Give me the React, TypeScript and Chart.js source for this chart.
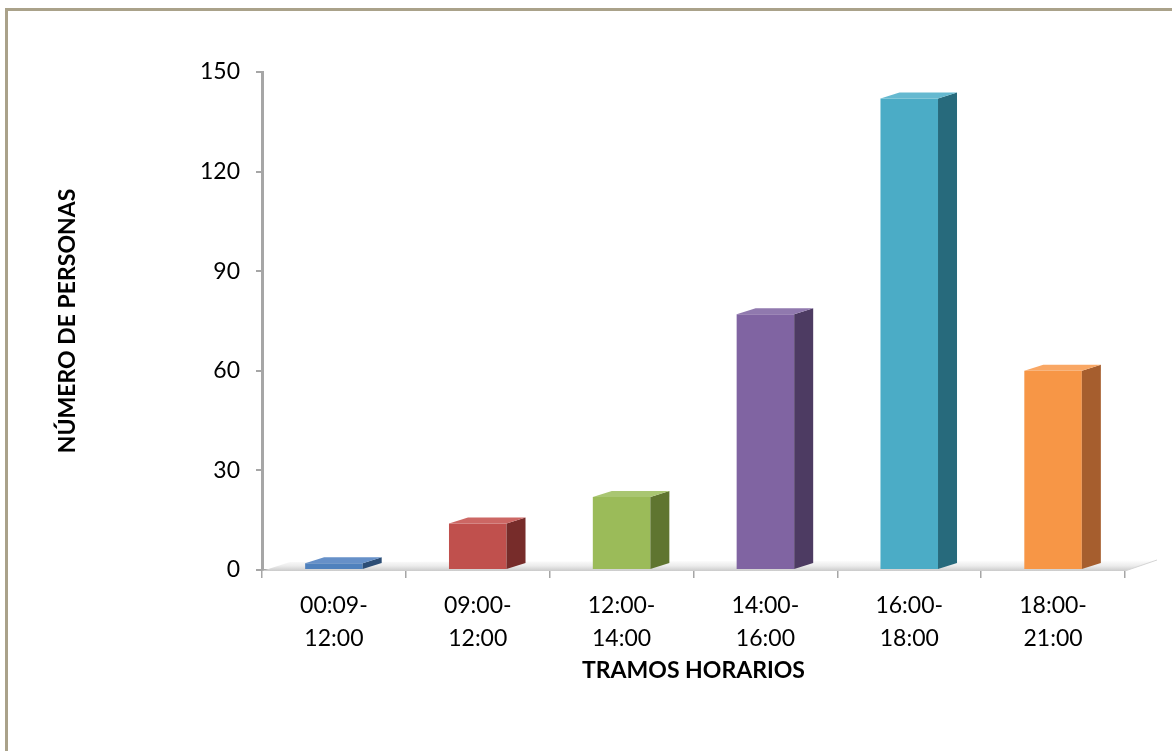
import React, { useEffect, useRef } from "react";
import { Chart, registerables } from "chart.js";

Chart.register(...registerables);

const categories: string[][] = [
  ["00:09-", "12:00"],
  ["09:00-", "12:00"],
  ["12:00-", "14:00"],
  ["14:00-", "16:00"],
  ["16:00-", "18:00"],
  ["18:00-", "21:00"],
];
const values: number[] = [2, 14, 22, 77, 142, 60];
const yTicks: number[] = [0, 30, 60, 90, 120, 150];
const frontColors: string[] = ["#4f81bd", "#c0504d", "#9bbb59", "#8064a2", "#4bacc6", "#f79646"];
const sideColors: string[] = ["#2c4d75", "#772c2a", "#5f7530", "#4d3b62", "#276a7c", "#a65e2e"];
const topColors: string[] = ["#6690c8", "#cc6764", "#a9c672", "#9079ae", "#65b9d0", "#f9a764"];
const xTitle = "TRAMOS HORARIOS";
const yTitle = "NÚMERO DE PERSONAS";

const DX = 19;
const DY = 6;

const floorPlugin = {
  id: "floor3d",
  beforeDatasetsDraw(chart: any) {
    const { ctx, chartArea } = chart;
    const l = chartArea.left;
    const r = chartArea.right;
    const b = chartArea.bottom;
    ctx.save();
    const g = ctx.createLinearGradient(0, b - 10, 0, b + 2);
    g.addColorStop(0, "#ffffff");
    g.addColorStop(0.5, "#ebebeb");
    g.addColorStop(1, "#c4c4c4");
    ctx.fillStyle = g;
    ctx.beginPath();
    ctx.moveTo(l, b + 1);
    ctx.lineTo(l + 28, b - 8);
    ctx.lineTo(r + 32, b - 10);
    ctx.lineTo(r, b + 1);
    ctx.closePath();
    ctx.fill();
    ctx.strokeStyle = "#d4d4d4";
    ctx.lineWidth = 1;
    ctx.beginPath();
    ctx.moveTo(r, b + 1);
    ctx.lineTo(r + 32, b - 10);
    ctx.stroke();
    ctx.restore();
  },
};

const bar3dPlugin = {
  id: "bar3d",
  afterDatasetsDraw(chart: any) {
    const { ctx } = chart;
    const meta = chart.getDatasetMeta(0);
    ctx.save();
    meta.data.forEach((bar: any, i: number) => {
      const { x, y, base, width } = bar.getProps(["x", "y", "base", "width"], true);
      const l = x - width / 2;
      const r = x + width / 2;
      ctx.fillStyle = sideColors[i];
      ctx.beginPath();
      ctx.moveTo(r, y);
      ctx.lineTo(r + DX, y - DY);
      ctx.lineTo(r + DX, base - DY);
      ctx.lineTo(r, base);
      ctx.closePath();
      ctx.fill();
      ctx.fillStyle = topColors[i];
      ctx.beginPath();
      ctx.moveTo(l, y);
      ctx.lineTo(l + DX, y - DY);
      ctx.lineTo(r + DX, y - DY);
      ctx.lineTo(r, y);
      ctx.closePath();
      ctx.fill();
    });
    ctx.restore();
  },
};

export default function App() {
  const ref = useRef<HTMLCanvasElement | null>(null);

  useEffect(() => {
    if (!ref.current) return;
    const chart = new Chart(ref.current, {
      type: "bar",
      data: {
        labels: categories,
        datasets: [
          {
            data: values,
            backgroundColor: frontColors,
            borderWidth: 0,
            barPercentage: 0.8,
            categoryPercentage: 0.5,
          },
        ],
      },
      plugins: [floorPlugin, bar3dPlugin],
      options: {
        responsive: false,
        animation: false,
        events: [],
        layout: { padding: { left: 0, top: 72, right: 47, bottom: 0 } },
        plugins: {
          legend: { display: false },
          tooltip: { enabled: false },
        },
        scales: {
          x: {
            afterFit: (s: any) => {
              s.height = 181;
            },
            grid: {
              drawOnChartArea: false,
              drawTicks: true,
              tickLength: 8,
              color: "#a6a6a6",
              lineWidth: 1.5,
            },
            border: { display: true, color: "#a6a6a6", width: 1.5 },
            ticks: {
              color: "#000000",
              padding: 11,
              maxRotation: 0,
              autoSkip: false,
              font: { family: "Lato", size: 23, lineHeight: 1.45 },
            },
            title: {
              display: true,
              text: xTitle,
              color: "#000000",
              padding: { top: 0, bottom: 67 },
              font: { family: "Lato", size: 23, weight: "bold", lineHeight: 1.2 },
            },
          },
          y: {
            min: 0,
            max: 150,
            afterFit: (s: any) => {
              s.width = 262;
            },
            afterBuildTicks: (s: any) => {
              s.ticks = yTicks.map((v) => ({ value: v }));
            },
            grid: {
              drawOnChartArea: false,
              drawTicks: true,
              tickLength: 6,
              color: "#a6a6a6",
              lineWidth: 2,
            },
            border: { display: true, color: "#a6a6a6", width: 3 },
            ticks: {
              color: "#000000",
              padding: 16,
              font: { family: "Lato", size: 23 },
            },
            title: {
              display: true,
              text: yTitle,
              color: "#000000",
              padding: { top: 54, bottom: 0 },
              font: { family: "Lato", size: 23, weight: "bold", lineHeight: 1.2 },
            },
          },
        },
      },
    });
    return () => chart.destroy();
  }, []);

  return (
    <div
      style={{
        position: "fixed",
        left: 0,
        top: 0,
        width: 1172,
        height: 751,
        overflow: "hidden",
        background: "#ffffff",
      }}
    >
      <div
        style={{
          position: "absolute",
          left: 5,
          top: 8,
          width: 1400,
          height: 1000,
          border: "3px solid #aaa28a",
          boxSizing: "border-box",
        }}
      />
      <canvas
        ref={ref}
        width={1172}
        height={751}
        style={{ position: "absolute", left: 0, top: 0, width: 1172, height: 751, display: "block" }}
      />
    </div>
  );
}
